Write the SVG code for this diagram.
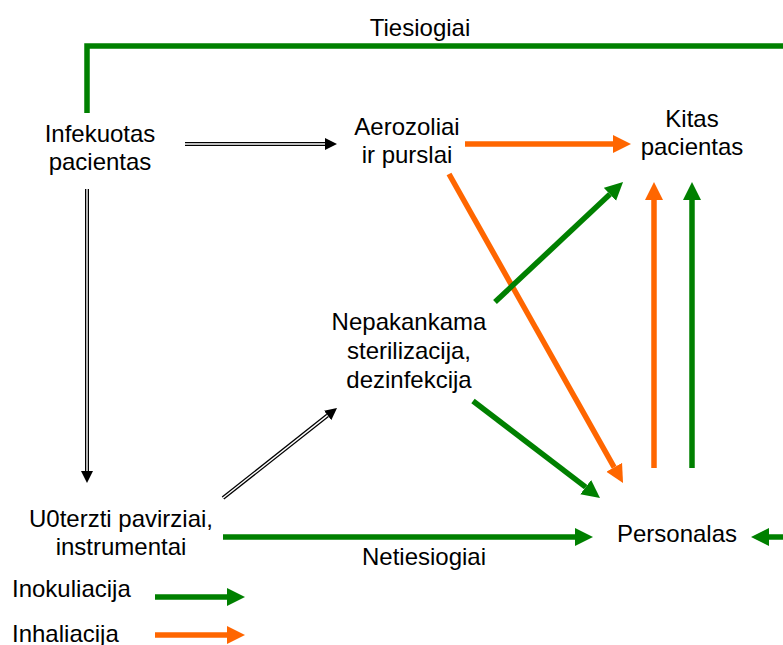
<svg xmlns="http://www.w3.org/2000/svg" width="783" height="645" viewBox="0 0 783 645">
<style>
text{font-family:"Liberation Sans",Arial,sans-serif;font-size:24px;fill:#000}
.c{text-anchor:middle}
.g{stroke:#008000;stroke-width:5.5;fill:none}
.o{stroke:#FF6600;stroke-width:5.5;fill:none}
.bk{stroke:#000;stroke-width:4;fill:none}
.wh{stroke:#fff;stroke-width:1.4;fill:none}
</style>
<defs>
<marker id="ag" markerUnits="userSpaceOnUse" markerWidth="20" markerHeight="20" viewBox="0 -10 20 20" refX="0" refY="0" orient="auto"><path d="M0,-9 L18,0 L0,9 z" fill="#008000"/></marker>
<marker id="ao" markerUnits="userSpaceOnUse" markerWidth="20" markerHeight="20" viewBox="0 -10 20 20" refX="0" refY="0" orient="auto"><path d="M0,-9 L18,0 L0,9 z" fill="#FF6600"/></marker>
<marker id="ab" markerUnits="userSpaceOnUse" markerWidth="14" markerHeight="14" viewBox="0 -7 14 14" refX="0" refY="0" orient="auto"><path d="M0,-6 L12,0 L0,6 z" fill="#000"/></marker>
</defs>
<rect width="783" height="645" fill="#fff"/>
<g id="connectors">
<path class="g" d="M87,113 V46 H783"/>
<path class="bk" d="M185,144 H325" marker-end="url(#ab)"/>
<path class="wh" d="M185,144 H325"/>
<path class="bk" d="M87,189 V471" marker-end="url(#ab)"/>
<path class="wh" d="M87,189 V471"/>
<path class="bk" d="M223,498 L327.6,415.4" marker-end="url(#ab)"/>
<path class="wh" d="M223,498 L327.6,415.4"/>
<path class="o" d="M465,144 H613" marker-end="url(#ao)"/>
<path class="o" d="M449,174 L614.2,467.3" marker-end="url(#ao)"/>
<path class="g" d="M495,302 L609.9,194.3" marker-end="url(#ag)"/>
<path class="o" d="M654,468 V200" marker-end="url(#ao)"/>
<path class="g" d="M692,468 V200" marker-end="url(#ag)"/>
<path class="g" d="M473,401 L585.7,487.1" marker-end="url(#ag)"/>
<path class="g" d="M223,537 H575" marker-end="url(#ag)"/>
<path class="g" d="M783,537 H769" marker-end="url(#ag)"/>
<path class="g" d="M155,597 H227" marker-end="url(#ag)"/>
<path class="o" d="M155,635 H227" marker-end="url(#ao)"/>
<text class="c" x="420" y="36">Tiesiogiai</text>
<text class="c" x="424" y="565">Netiesiogiai</text>
</g>
<g id="infekuotas"><text class="c" x="100" y="142">Infekuotas</text><text class="c" x="100" y="170">pacientas</text></g>
<g id="aerozoliai"><text class="c" x="407" y="135">Aerozoliai</text><text class="c" x="407" y="163">ir purslai</text></g>
<g id="kitas"><text class="c" x="692" y="127">Kitas</text><text class="c" x="692" y="155">pacientas</text></g>
<g id="nepakankama"><text class="c" x="409" y="330">Nepakankama</text><text class="c" x="409" y="359">sterilizacija,</text><text class="c" x="409" y="388">dezinfekcija</text></g>
<g id="uzterzti"><text class="c" x="121" y="527">U0terzti pavirziai,</text><text class="c" x="121" y="555">instrumentai</text></g>
<g id="personalas"><text class="c" x="677" y="542">Personalas</text></g>
<g id="legend"><text x="12" y="597">Inokuliacija</text><text x="12" y="642">Inhaliacija</text></g>
</svg>
